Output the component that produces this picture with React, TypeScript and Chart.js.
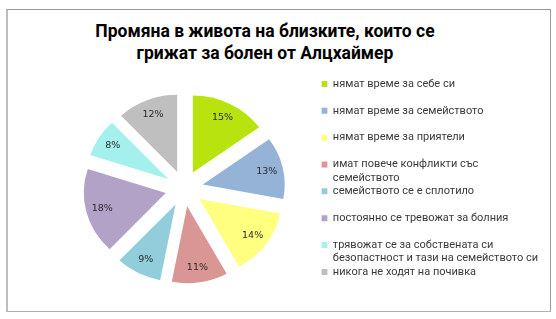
import { useEffect, useRef } from 'react';
import { Chart, registerables } from 'chart.js';

Chart.register(...registerables);

const titleLines = ['Промяна в живота на близките, които се', 'грижат за болен от Алцхаймер'];

const categories: (string | string[])[] = [
  'нямат време за себе си',
  'нямат време за семейството',
  'нямат време за приятели',
  ['имат повече конфликти със', 'семейството'],
  'семейството се е сплотило',
  'постоянно се тревожат за болния',
  ['трявожат се за собствената си', 'безопастност и тази на семейството си'],
  'никога не ходят на почивка',
];

const values = [15, 13, 14, 11, 9, 18, 8, 12];

const colors = ['#b8e30e', '#95b3d7', '#ffff80', '#d99694', '#92cddc', '#b3a2c7', '#a3f0ec', '#bfbfbf'];

const explodePlugin = {
  id: 'explode',
  beforeDatasetDraw(chart: any, args: any, opts: any) {
    const ctx = chart.ctx;
    const meta = args.meta;
    const d = opts.distance;
    const sy = opts.squash;
    const total = values.reduce((a, b) => a + b, 0);
    meta.data.forEach((arc: any) => {
      const { x, y, startAngle, endAngle } = arc;
      const mid = (startAngle + endAngle) / 2;
      ctx.save();
      ctx.translate(x, y);
      ctx.scale(1, sy);
      ctx.translate(Math.cos(mid) * d, Math.sin(mid) * d);
      ctx.translate(-x, -y);
      arc.draw(ctx);
      ctx.restore();
    });
    ctx.save();
    ctx.font = opts.font;
    ctx.fillStyle = opts.color;
    ctx.textAlign = 'center';
    ctx.textBaseline = 'middle';
    meta.data.forEach((arc: any, i: number) => {
      const { x, y, startAngle, endAngle, outerRadius } = arc;
      const mid = (startAngle + endAngle) / 2;
      const r = d + outerRadius * opts.labelRatio;
      const pct = Math.round((values[i] / total) * 100) + '%';
      ctx.fillText(pct, x + Math.cos(mid) * r, y + Math.sin(mid) * r * sy);
    });
    ctx.restore();
    return false;
  },
};

export default function App() {
  const ref = useRef<HTMLCanvasElement>(null);
  useEffect(() => {
    const canvas = ref.current!;
    const chart = new Chart(canvas, {
      type: 'pie',
      data: {
        labels: categories as any,
        datasets: [
          {
            data: values,
            backgroundColor: colors,
            borderWidth: 0,
            radius: 82,
          } as any,
        ],
      },
      options: {
        responsive: false,
        animation: false,
        events: [],
        radius: 82,
        layout: { padding: { left: 47, right: 8, top: 78.5, bottom: 20.5 } },
        plugins: {
          title: { display: false },
          tooltip: { enabled: false },
          legend: {
            position: 'right',
            align: 'start',
            labels: {
              boxWidth: 6,
              boxHeight: 6,
              padding: 0,
              color: '#3a3a3a',
              font: { family: 'Roboto', size: 11, lineHeight: 1.22 },
              generateLabels: (c: any) => {
                const base = (Chart as any).overrides.doughnut.plugins.legend.labels.generateLabels(c);
                return base.map((item: any) => ({
                  ...item,
                  text: Array.isArray(item.text) ? item.text : [item.text, ''],
                }));
              },
            },
          },
          explode: {
            distance: 19,
            squash: 0.94,
            labelRatio: 0.8,
            font: '9.5px "DejaVu Sans"',
            color: '#2b2b2b',
          },
        } as any,
      } as any,
      plugins: [explodePlugin],
    });
    return () => chart.destroy();
  }, []);

  return (
    <div style={{ position: 'absolute', left: 0, top: 0, width: 556, height: 319, background: '#fff', overflow: 'hidden' }}>
      <div
        style={{
          position: 'absolute',
          left: 6,
          top: 9,
          width: 545,
          height: 303,
          boxSizing: 'border-box',
          borderTop: '1px solid #9a9a9a',
          borderRight: '1px solid #9a9a9a',
          borderBottom: '1px solid #b0b0b0',
          borderLeft: '2px solid #bdbdbd',
        }}
      />
      <div
        style={{
          position: 'absolute',
          left: 0,
          top: 20,
          width: 530,
          textAlign: 'center',
          fontFamily: 'Roboto, sans-serif',
          fontWeight: 'bold',
          fontSize: 17.5,
          lineHeight: '22px',
          color: '#000',
        }}
      >
        {titleLines.map((t, i) => (
          <div key={i}>{t}</div>
        ))}
      </div>
      <canvas ref={ref} width={556} height={319} style={{ position: 'absolute', left: 0, top: 0, display: 'block' }} />
    </div>
  );
}
